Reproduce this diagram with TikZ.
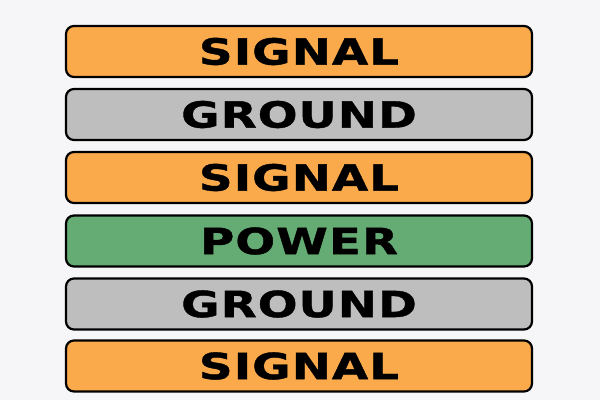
\documentclass[tikz,border=0pt]{standalone}
\usepackage{fontspec}
\newfontfamily\barfont[FakeStretch=1.3,LetterSpace=3,FakeBold=1.2]{DejaVu Sans Bold}
\definecolor{sigorange}{RGB}{250,170,75}
\definecolor{gndgray}{RGB}{190,190,190}
\definecolor{pwrgreen}{RGB}{100,172,115}
\definecolor{pagebg}{RGB}{246,246,248}
\tikzset{
	layer/.style={draw=black,line width=2.2pt,rounded corners=8pt,minimum width=466pt,minimum height=51pt,inner sep=0pt,font=\barfont\fontsize{36}{36}\selectfont,text=black},
}
\begin{document}
\begin{tikzpicture}[x=1pt,y=1pt]
			\fill[pagebg] (0,0) rectangle (600,400);
			\useasboundingbox (0,0) rectangle (600,400);
			\node[layer,fill=sigorange] (sig1) at (299,348.5) {SIGNAL};
			\node[layer,fill=gndgray] (gnd1) at (299,285.5) {GROUND};
			\node[layer,fill=sigorange] (sig2) at (299,222.5) {SIGNAL};
			\node[layer,fill=pwrgreen] (pwr) at (299,159) {POWER};
			\node[layer,fill=gndgray] (gnd2) at (299,96) {GROUND};
			\node[layer,fill=sigorange] (sig3) at (299,34) {SIGNAL};
		\end{tikzpicture}
\end{document}
